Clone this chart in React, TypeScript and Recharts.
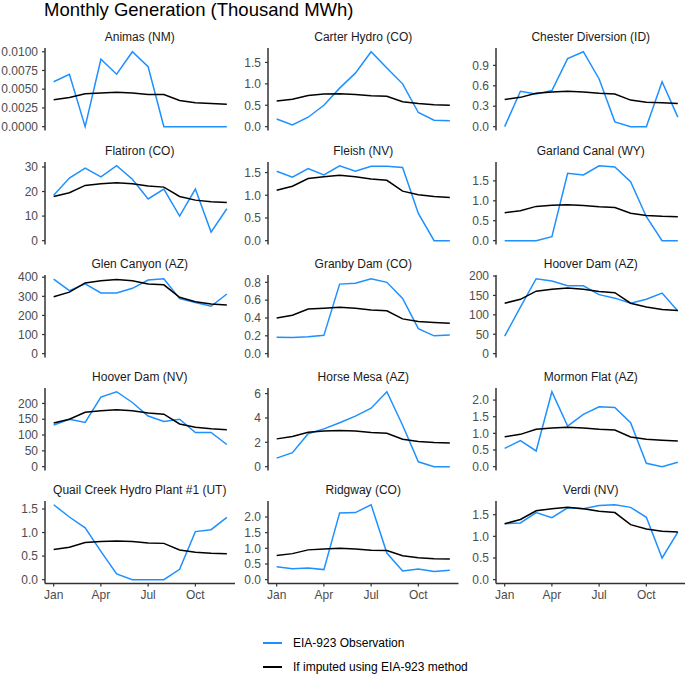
import React from 'react';
import { LineChart, Line, XAxis, YAxis } from 'recharts';

const MONTH_NUMS = [1, 2, 3, 4, 5, 6, 7, 8, 9, 10, 11, 12];
const MONTH_NAMES = ['Jan', 'Feb', 'Mar', 'Apr', 'May', 'Jun', 'Jul', 'Aug', 'Sep', 'Oct', 'Nov', 'Dec'];
const X_TICKS = [1, 4, 7, 10];

const TITLE = 'Monthly Generation (Thousand MWh)';
const LEGEND_OBS = 'EIA-923 Observation';
const LEGEND_IMP = 'If imputed using EIA-923 method';

const animasObs = [0.006, 0.007, 0.0, 0.009, 0.007, 0.01, 0.008, 0, 0, 0, 0, 0];
const animasImp = [0.0036, 0.0039, 0.0044, 0.0045, 0.0046, 0.0045, 0.0043, 0.0043, 0.0035, 0.0032, 0.0031, 0.003];
const animasTicks = [0, 0.0025, 0.005, 0.0075, 0.01];

const carterObs = [0.18, 0.04, 0.22, 0.5, 0.9, 1.25, 1.75, 1.37, 1.0, 0.33, 0.15, 0.14];
const carterImp = [0.6, 0.64, 0.73, 0.76, 0.77, 0.75, 0.72, 0.71, 0.58, 0.54, 0.51, 0.5];
const carterTicks = [0, 0.5, 1.0, 1.5];

const chesterObs = [0.0, 0.52, 0.48, 0.53, 1.0, 1.1, 0.7, 0.07, 0.0, 0.0, 0.66, 0.14];
const chesterImp = [0.4, 0.43, 0.49, 0.51, 0.52, 0.51, 0.49, 0.48, 0.39, 0.36, 0.35, 0.34];
const chesterTicks = [0, 0.3, 0.6, 0.9];

const flatironObs = [18.5, 25.5, 29.5, 26, 30.5, 25, 17, 21, 10, 21, 3.5, 13];
const flatironImp = [18, 19.5, 22.5, 23.2, 23.6, 23.2, 22.3, 21.8, 18, 16.5, 15.8, 15.5];
const flatironTicks = [0, 10, 20, 30];

const fleishObs = [1.53, 1.4, 1.59, 1.45, 1.65, 1.53, 1.64, 1.64, 1.61, 0.6, 0.0, 0.0];
const fleishImp = [1.11, 1.2, 1.37, 1.41, 1.44, 1.41, 1.36, 1.33, 1.09, 1.01, 0.97, 0.95];
const fleishTicks = [0, 0.5, 1.0, 1.5];

const garlandObs = [0, 0, 0, 0.1, 1.69, 1.65, 1.88, 1.85, 1.48, 0.6, 0, 0];
const garlandImp = [0.7, 0.75, 0.86, 0.89, 0.9, 0.88, 0.85, 0.83, 0.69, 0.63, 0.61, 0.6];
const garlandTicks = [0, 0.5, 1.0, 1.5];

const glenObs = [390, 330, 365, 318, 318, 342, 385, 392, 288, 268, 248, 312];
const glenImp = [298, 322, 370, 382, 388, 382, 365, 360, 295, 272, 260, 255];
const glenTicks = [0, 100, 200, 300, 400];

const granbyObs = [0.185, 0.18, 0.19, 0.205, 0.78, 0.79, 0.84, 0.8, 0.62, 0.28, 0.2, 0.21];
const granbyImp = [0.4, 0.43, 0.5, 0.51, 0.52, 0.51, 0.49, 0.48, 0.39, 0.36, 0.35, 0.34];
const granbyTicks = [0, 0.2, 0.4, 0.6, 0.8];

const hooverAzObs = [45, 120, 193, 187, 175, 175, 152, 143, 130, 140, 156, 110];
const hooverAzImp = [130, 140, 161, 166, 169, 166, 160, 157, 130, 120, 114, 111];
const hooverAzTicks = [0, 50, 100, 150, 200];

const hooverNvObs = [132, 150, 140, 220, 237, 203, 160, 143, 150, 108, 108, 70];
const hooverNvImp = [138, 150, 172, 177, 180, 177, 170, 166, 135, 125, 120, 117];
const hooverNvTicks = [0, 50, 100, 150, 200];

const horseObs = [0.7, 1.15, 2.7, 3.1, 3.6, 4.15, 4.8, 6.15, 3.4, 0.4, 0, 0];
const horseImp = [2.28, 2.47, 2.83, 2.92, 2.97, 2.93, 2.8, 2.74, 2.25, 2.06, 1.98, 1.95];
const horseTicks = [0, 2, 4, 6];

const mormonObs = [0.55, 0.78, 0.47, 2.25, 1.22, 1.57, 1.8, 1.78, 1.32, 0.1, 0.0, 0.13];
const mormonImp = [0.9, 0.97, 1.12, 1.16, 1.18, 1.16, 1.12, 1.1, 0.89, 0.82, 0.79, 0.77];
const mormonTicks = [0, 0.5, 1.0, 1.5, 2.0];

const quailObs = [1.59, 1.33, 1.1, 0.6, 0.12, 0, 0, 0, 0.22, 1.02, 1.06, 1.32];
const quailImp = [0.64, 0.69, 0.79, 0.81, 0.82, 0.81, 0.78, 0.77, 0.63, 0.58, 0.56, 0.55];
const quailTicks = [0, 0.5, 1.0, 1.5];

const ridgwayObs = [0.41, 0.35, 0.37, 0.32, 2.13, 2.14, 2.39, 0.85, 0.28, 0.34, 0.26, 0.3];
const ridgwayImp = [0.77, 0.83, 0.95, 0.98, 1.0, 0.98, 0.94, 0.93, 0.76, 0.7, 0.67, 0.66];
const ridgwayTicks = [0, 0.5, 1.0, 1.5, 2.0];

const verdiObs = [1.29, 1.31, 1.55, 1.43, 1.66, 1.64, 1.71, 1.73, 1.67, 1.44, 0.5, 1.1];
const verdiImp = [1.29, 1.39, 1.59, 1.64, 1.67, 1.64, 1.58, 1.55, 1.27, 1.17, 1.12, 1.1];
const verdiTicks = [0, 0.5, 1.0, 1.5];

const PANELS = [
  { title: 'Animas (NM)', obs: animasObs, imp: animasImp, ticks: animasTicks, digits: 4 },
  { title: 'Carter Hydro (CO)', obs: carterObs, imp: carterImp, ticks: carterTicks, digits: 1 },
  { title: 'Chester Diversion (ID)', obs: chesterObs, imp: chesterImp, ticks: chesterTicks, digits: 1 },
  { title: 'Flatiron (CO)', obs: flatironObs, imp: flatironImp, ticks: flatironTicks, digits: 0 },
  { title: 'Fleish (NV)', obs: fleishObs, imp: fleishImp, ticks: fleishTicks, digits: 1 },
  { title: 'Garland Canal (WY)', obs: garlandObs, imp: garlandImp, ticks: garlandTicks, digits: 1 },
  { title: 'Glen Canyon (AZ)', obs: glenObs, imp: glenImp, ticks: glenTicks, digits: 0 },
  { title: 'Granby Dam (CO)', obs: granbyObs, imp: granbyImp, ticks: granbyTicks, digits: 1 },
  { title: 'Hoover Dam (AZ)', obs: hooverAzObs, imp: hooverAzImp, ticks: hooverAzTicks, digits: 0 },
  { title: 'Hoover Dam (NV)', obs: hooverNvObs, imp: hooverNvImp, ticks: hooverNvTicks, digits: 0 },
  { title: 'Horse Mesa (AZ)', obs: horseObs, imp: horseImp, ticks: horseTicks, digits: 0 },
  { title: 'Mormon Flat (AZ)', obs: mormonObs, imp: mormonImp, ticks: mormonTicks, digits: 1 },
  { title: 'Quail Creek Hydro Plant #1 (UT)', obs: quailObs, imp: quailImp, ticks: quailTicks, digits: 1 },
  { title: 'Ridgway (CO)', obs: ridgwayObs, imp: ridgwayImp, ticks: ridgwayTicks, digits: 1 },
  { title: 'Verdi (NV)', obs: verdiObs, imp: verdiImp, ticks: verdiTicks, digits: 1 },
];

const FONT = '"Liberation Sans", Arial, Helvetica, sans-serif';
const BLUE = '#1E90FF';
const BLACK = '#000000';
const AXIS = '#333333';
const TICK_TEXT = '#4D4D4D';

const COL_LEFTS = [44.5, 268, 495.5];
const PANEL_W = 190.5;
const ROW_TOP0 = 48.3;
const ROW_STEP = 113.2;
const PANEL_H = 82.4;
const AXIS_W = 50;
const X_AXIS_H = 26;
const PAD = 10;

function Panel({ p, row, col }: { p: any; row: number; col: number }) {
  const data = MONTH_NUMS.map((m, i) => ({ m, obs: p.obs[i], imp: p.imp[i] }));
  const maxV = Math.max(...p.obs, ...p.imp);
  const domain = [-0.05 * maxV, 1.05 * maxV];
  const left = COL_LEFTS[col];
  const top = ROW_TOP0 + ROW_STEP * row;
  const isBottom = row === 4;
  const h = PAD + PANEL_H + (isBottom ? X_AXIS_H : 0) + PAD;
  const w = AXIS_W + PANEL_W;
  return (
    <>
      <div
        style={{
          position: 'absolute',
          left,
          top: top - 20,
          width: PANEL_W,
          height: 18,
          lineHeight: '18px',
          textAlign: 'center',
          fontSize: 12,
          color: '#1A1A1A',
          fontFamily: FONT,
          whiteSpace: 'nowrap',
        }}
      >
        {p.title}
      </div>
      <div style={{ position: 'absolute', left: left - AXIS_W, top: top - PAD, width: w, height: h }}>
        <LineChart width={w} height={h} data={data} margin={{ top: PAD, right: 0, bottom: PAD, left: 0 }}>
          <XAxis
            type="number"
            dataKey="m"
            domain={[0.45, 12.55]}
            ticks={X_TICKS}
            allowDataOverflow
            hide={!isBottom}
            height={X_AXIS_H}
            tickFormatter={(v: number) => MONTH_NAMES[v - 1]}
            axisLine={{ stroke: AXIS, strokeWidth: 1.5 }}
            tickLine={{ stroke: AXIS, strokeWidth: 1.2 }}
            tickSize={3}
            tickMargin={4}
            tick={{ fill: TICK_TEXT, fontSize: 12, fontFamily: FONT }}
            interval={0}
          />
          <YAxis
            type="number"
            width={AXIS_W}
            domain={domain}
            ticks={p.ticks}
            allowDataOverflow
            interval={0}
            tickFormatter={(v: number) => v.toFixed(p.digits)}
            axisLine={{ stroke: AXIS, strokeWidth: 1.5 }}
            tickLine={{ stroke: AXIS, strokeWidth: 1.2 }}
            tickSize={3}
            tickMargin={4}
            tick={{ fill: TICK_TEXT, fontSize: 12, fontFamily: FONT }}
          />
          <Line type="linear" dataKey="obs" stroke={BLUE} strokeWidth={1.5} dot={false} isAnimationActive={false} />
          <Line type="linear" dataKey="imp" stroke={BLACK} strokeWidth={1.5} dot={false} isAnimationActive={false} />
        </LineChart>
      </div>
    </>
  );
}

export default function App() {
  return (
    <div
      style={{
        position: 'absolute',
        left: 0,
        top: 0,
        width: 685,
        height: 674,
        background: '#fff',
        overflow: 'hidden',
        fontFamily: FONT,
      }}
    >
      <div
        style={{
          position: 'absolute',
          left: 44,
          top: -2,
          fontSize: 18.5,
          lineHeight: '24px',
          color: '#000',
          whiteSpace: 'nowrap',
        }}
      >
        {TITLE}
      </div>
      {PANELS.map((p, i) => (
        <Panel key={i} p={p} row={Math.floor(i / 3)} col={i % 3} />
      ))}
      <div style={{ position: 'absolute', left: 263, top: 642, width: 19, height: 2, background: BLUE }} />
      <div
        style={{ position: 'absolute', left: 293, top: 634, fontSize: 12, lineHeight: '18px', color: '#000', whiteSpace: 'nowrap' }}
      >
        {LEGEND_OBS}
      </div>
      <div style={{ position: 'absolute', left: 263, top: 666, width: 19, height: 2, background: BLACK }} />
      <div
        style={{ position: 'absolute', left: 293, top: 658, fontSize: 12, lineHeight: '18px', color: '#000', whiteSpace: 'nowrap' }}
      >
        {LEGEND_IMP}
      </div>
    </div>
  );
}
